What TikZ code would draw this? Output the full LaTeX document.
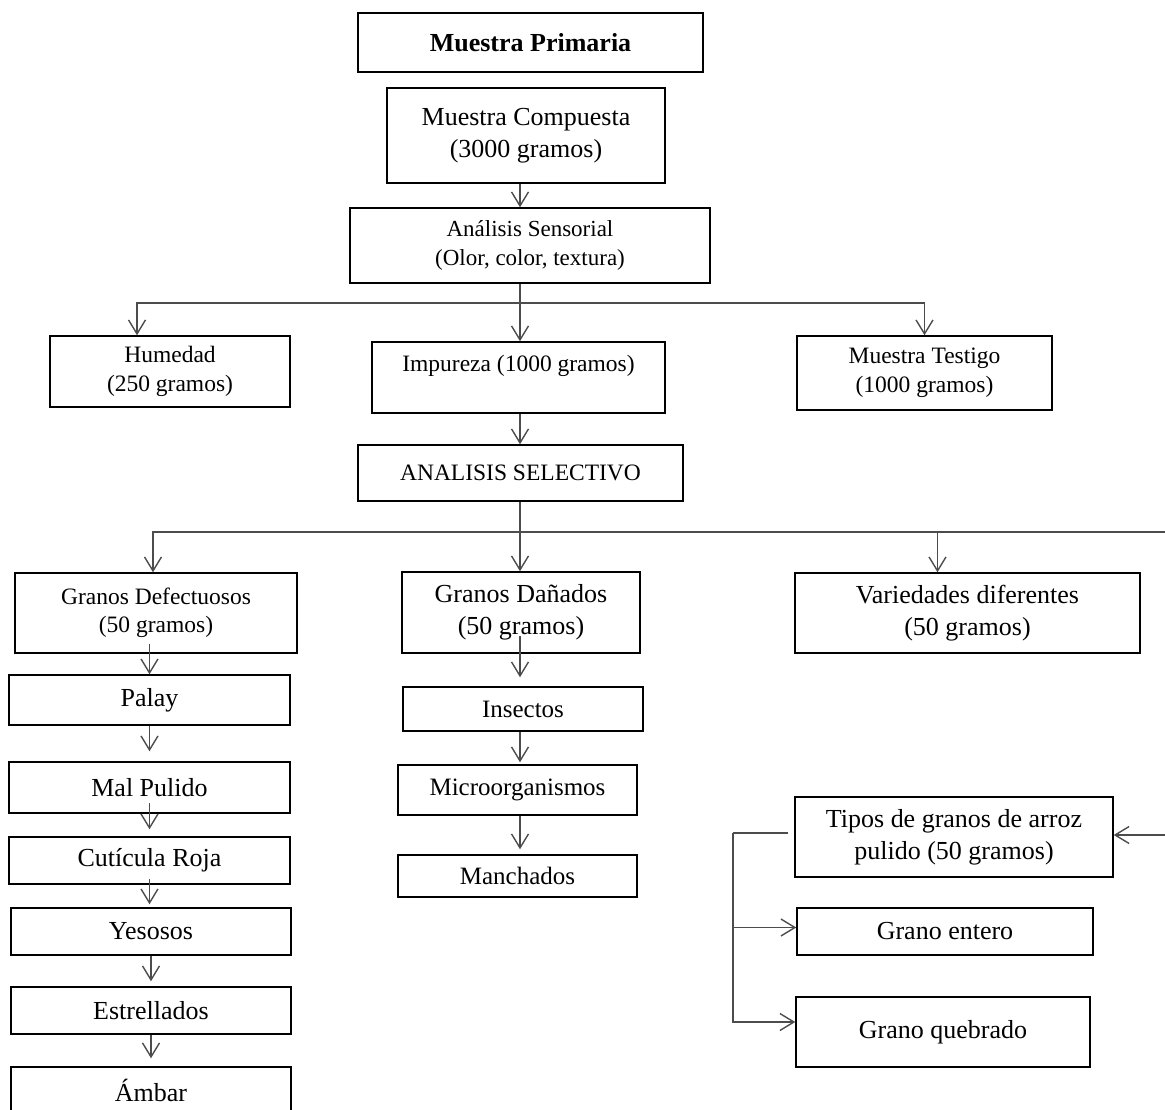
\documentclass[tikz,border=0pt]{standalone}
\usepackage{fontspec}
\setmainfont{Liberation Serif}
\usetikzlibrary{arrows.meta, positioning, calc}

\begin{document}
\begin{tikzpicture}[
  x=1pt, y=-1pt,
  box/.style={rectangle, draw, line width=1.5pt, inner sep=2pt, align=center},
  big/.style={font=\fontsize{26}{32}\selectfont},
  mid/.style={font=\fontsize{23.5}{28.5}\selectfont},
  small/.style={font=\fontsize{25}{30}\selectfont},
  arrow/.style={-{Straight Barb[length=14pt, width=17pt]}, line width=1.4pt, draw=black!70},
  link/.style={line width=1.4pt, draw=black!70},
]
  \clip (0,0) rectangle (1165,1110);

  % upper part
  \node[box, big, minimum width=345pt, minimum height=59pt] (prim) at (530.5,42.5) {\textbf{Muestra Primaria}};
  \node[box, big, minimum width=278pt, minimum height=95pt] (comp) at (526,135.5) {Muestra Compuesta\\(3000 gramos)};
  \node[box, font=\fontsize{23}{29}\selectfont, minimum width=360pt, minimum height=75pt] (sens) at (530,245.5) {Análisis Sensorial\\(Olor, color, textura)};

  \node[box, mid, minimum width=240pt, minimum height=71pt] (hum) at (170,371.5) {Humedad\\(250 gramos)};
  \node[box, mid, minimum width=293pt, minimum height=71pt] (imp) at (518.5,377.5) {Impureza (1000 gramos)\\~};
  \node[box, mid, minimum width=255pt, minimum height=74pt] (test) at (924.5,373) {Muestra Testigo\\(1000 gramos)};
  \node[box, mid, minimum width=325pt, minimum height=56pt] (sel) at (520.5,473) {ANALISIS SELECTIVO};

  \node[box, mid, minimum width=282pt, minimum height=80pt] (def) at (156,613) {Granos Defectuosos\\(50 gramos)};
  \node[box, big, minimum width=238pt, minimum height=81pt] (dan) at (521,612.5) {Granos Dañados\\(50 gramos)};
  \node[box, big, minimum width=345pt, minimum height=80pt] (var) at (967.5,613) {Variedades diferentes\\(50 gramos)};

  % defectuosos
  \node[box, big, minimum width=281pt, minimum height=50pt] (pal) at (149.5,700) {Palay};
  \node[box, big, minimum width=281pt, minimum height=51pt] (malp) at (149.5,787.5) {Mal Pulido};
  \node[box, big, minimum width=281pt, minimum height=47pt] (cut) at (149.5,860.5) {Cutícula Roja};
  \node[box, big, minimum width=280pt, minimum height=47pt] (yes) at (151,931.5) {Yesosos};
  \node[box, big, minimum width=280pt, minimum height=47pt] (est) at (151,1010.5) {Estrellados};
  \node[box, big, minimum width=280pt, minimum height=47pt] (amb) at (151,1090.5) {Ámbar};

  % dañados
  \node[box, small, minimum width=240pt, minimum height=44pt] (ins) at (523,709) {Insectos};
  \node[box, small, minimum width=239pt, minimum height=50pt] (mic) at (517.5,790) {Microorganismos};
  \node[box, small, minimum width=239pt, minimum height=42pt] (man) at (517.5,876) {Manchados};

  % arroz pulido
  \node[box, big, minimum width=318pt, minimum height=80pt] (tipo) at (954,837) {Tipos de granos de arroz\\pulido (50 gramos)};
  \node[box, big, minimum width=296pt, minimum height=47pt] (ent) at (945,931.5) {Grano entero};
  \node[box, big, minimum width=294pt, minimum height=70pt] (queb) at (943,1032) {Grano quebrado};

  \coordinate (spine) at (520,0);
  \coordinate (topsplit) at (520,303);
  \coordinate (botsplit) at (520,532);
  \coordinate (redgeA) at (1165,532);
  \coordinate (redgeB) at (1165,835);
  \coordinate (brk) at (733,833);
  \coordinate (entin) at ([yshift=4pt]ent.west);
  \coordinate (quebin) at ([yshift=10pt]queb.west);

  \draw[arrow] (comp.south -| spine) -- (sens.north -| spine);
  \draw[arrow] (sens.south -| spine) -- (imp.north -| spine);
  \draw[arrow] (topsplit) -| ([xshift=-33pt]hum.north);
  \draw[arrow] (topsplit) -| (test.north);
  \draw[arrow] (imp.south -| spine) -- (sel.north -| spine);
  \draw[arrow] (sel.south -| spine) -- (dan.north -| spine);
  \draw[arrow] (botsplit) -| ([xshift=-3pt]def.north);
  \draw[arrow] (botsplit) -| ([xshift=-30pt]var.north);
  \draw[link] (botsplit) -- (redgeA);
  \draw[arrow] (redgeB) -- (tipo.east |- redgeB);

  \draw[arrow] ([yshift=10pt]def.south -| pal.north) -- (pal.north);
  \draw[arrow, shorten >=10pt] (pal.south) -- (malp.north);
  \draw[arrow, shorten >=7pt] ([yshift=11pt]malp.south) -- (cut.north);
  \draw[arrow, shorten >=3pt] ([yshift=6pt]cut.south) -- (yes.north -| cut.south);
  \draw[arrow, shorten >=5pt] (yes.south) -- (est.north);
  \draw[arrow, shorten >=8pt] (est.south) -- (amb.north);

  \draw[arrow, shorten >=9pt] ([yshift=18pt]dan.south -| spine) -- (ins.north -| spine);
  \draw[arrow, shorten >=2pt] (ins.south -| spine) -- (mic.north -| spine);
  \draw[arrow, shorten >=5pt] (mic.south -| spine) -- (man.north -| spine);

  \draw[link, shorten >=6pt] (brk) -- (tipo.west |- brk);
  \draw[arrow] (brk) |- (quebin);
  \draw[arrow] (brk |- entin) -- (entin);
\end{tikzpicture}
\end{document}
